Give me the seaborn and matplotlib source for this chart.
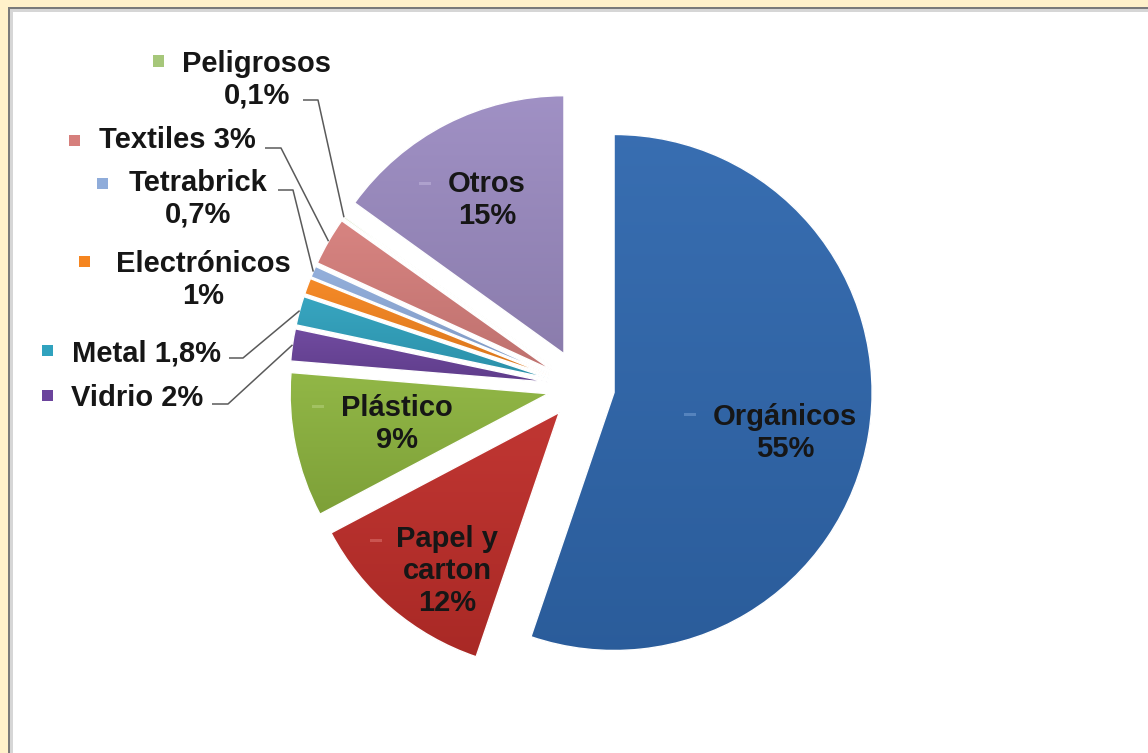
import numpy as np
import matplotlib
matplotlib.use('Agg')
import matplotlib.pyplot as plt
import seaborn as sns
from matplotlib.colors import to_rgb
from matplotlib.patches import Rectangle, Wedge

# ---------------- data ----------------
categories = ['Orgánicos', 'Papel y carton', 'Plástico', 'Vidrio', 'Metal',
              'Electrónicos', 'Tetrabrick', 'Textiles', 'Peligrosos', 'Otros']
values = [55, 12, 9, 2, 1.8, 1, 0.7, 3, 0.1, 15]
value_labels = ['55%', '12%', '9%', '2%', '1,8%', '1%', '0,7%', '3%', '0,1%', '15%']

# ---------------- style ----------------
sns.set_theme(style='white')
plt.rcParams['font.family'] = ['Liberation Sans', 'DejaVu Sans']

colors = ['#3068AE', '#BE2E2A', '#8DB43F', '#6B449C', '#30A2BE',
          '#F5851F', '#8FACDA', '#D67F7C', '#A6C77A', '#9C8CC2']
explode = [0.13, 0.13, 0.13, 0.13, 0.13, 0.13, 0.13, 0.13, 0.13, 0.145]

W, H = 1148, 753
CX, CY, R = 581, 387, 258   # pixel layout of pie


def px(x, y):
    return ((x - CX) / R, (CY - y) / R)


fig = plt.figure(figsize=(W / 100, H / 100), dpi=100)
fig.patch.set_facecolor('#FFF1CA')
# white panel with grey border
fig.add_artist(Rectangle((10 / W, 0), 1.0, (H - 9) / H, transform=fig.transFigure,
                         facecolor='white', edgecolor='none', zorder=0))
fig.add_artist(Rectangle((8 / W, 0), 2.2 / W, (H - 7) / H, transform=fig.transFigure,
                         facecolor='#7A7A7A', edgecolor='none', zorder=1))
fig.add_artist(Rectangle((8 / W, (H - 9.2) / H), 1.0, 2.2 / H, transform=fig.transFigure,
                         facecolor='#7A7A7A', edgecolor='none', zorder=1))
fig.add_artist(Rectangle((10.2 / W, 0), 3 / W, (H - 9.2) / H, transform=fig.transFigure,
                         facecolor='#D6D6D6', edgecolor='none', zorder=1))
fig.add_artist(Rectangle((10.2 / W, (H - 12.2) / H), 1.0, 3 / H, transform=fig.transFigure,
                         facecolor='#D6D6D6', edgecolor='none', zorder=1))

ax = fig.add_axes([0, 0, 1, 1])
ax.patch.set_alpha(0)

wedges, _ = ax.pie(values, explode=explode, startangle=90, counterclock=False,
                   colors=colors, radius=1, center=(0, 0),
                   wedgeprops=dict(edgecolor='none', linewidth=0))


def shade(c, f):
    c = np.array(to_rgb(c))
    if f >= 0:
        return c + (1 - c) * f
    return c * (1 + f)


# vertical gradient fill of every wedge
for w, c in zip(wedges, colors):
    bb = w.get_path().get_extents()
    top, bot = shade(c, 0.04), shade(c, -0.11)
    t = np.linspace(0, 1, 128)[:, None, None]
    img = top[None, None, :] * (1 - t) + bot[None, None, :] * t
    im = ax.imshow(img, extent=[bb.x0, bb.x1, bb.y0, bb.y1], origin='upper',
                   aspect='auto', interpolation='bicubic', zorder=w.get_zorder() + 0.1)
    im.set_clip_path(w)
    ax.add_patch(Wedge(w.center, w.r, w.theta1, w.theta2, fill=False,
                       edgecolor='white', linewidth=1.0, zorder=w.get_zorder() + 0.2))

TXT = '#161616'
FS = 21

# label layout: (line format, text center px, key type, key pos px, leader start px)
layout = {
    'Orgánicos':      ('{c}\n{v}', (785, 433), 'dash', (690, 415), None),
    'Papel y carton': ('Papel y\ncarton\n{v}', (447, 571), 'dash', (376, 540), None),
    'Plástico':       ('{c}\n{v}', (397, 424), 'dash', (318, 407), None),
    'Otros':          ('{c}\n{v}', (487, 200), 'dash', (425, 183), None),
    'Peligrosos':     ('{c}\n{v}', (257, 80), 'sq', (158, 61), [(303, 100), (318, 100)]),
    'Textiles':       ('{c} {v}', (177, 140), 'sq', (74, 140), [(265, 148), (281, 148)]),
    'Tetrabrick':     ('{c}\n{v}', (198, 199), 'sq', (102, 183), [(278, 190), (293, 190)]),
    'Electrónicos':   ('{c}\n{v}', (203, 280), 'sq', (85, 262), None),
    'Metal':          ('{c} {v}', (146, 354), 'sq', (47, 351), [(229, 358), (243, 358)]),
    'Vidrio':         ('{c} {v}', (137, 398), 'sq', (47, 396), [(212, 404), (228, 404)]),
}

for cat, val, w, c in zip(categories, value_labels, wedges, colors):
    fmt, pos, key, kpos, leader = layout[cat]
    x, y = px(*pos)
    ax.text(x, y, fmt.format(c=cat, v=val), ha='center', va='center',
            fontsize=FS, fontweight='bold', color=TXT, linespacing=1.18, zorder=10)
    kx, ky = px(*kpos)
    if key == 'sq':
        s = 11 / R
        ax.add_patch(Rectangle((kx - s / 2, ky - s / 2), s, s, facecolor=c,
                               edgecolor='none', zorder=10))
    else:
        ax.add_patch(Rectangle((kx - 6 / R, ky - 1.5 / R), 12 / R, 3 / R,
                               facecolor=shade(c, 0.18), edgecolor='none', zorder=10))
    if leader is not None:
        thm = np.deg2rad(0.5 * (w.theta1 + w.theta2))
        ex = w.center[0] + w.r * np.cos(thm)
        ey = w.center[1] + w.r * np.sin(thm)
        pts = [px(*p) for p in leader] + [(ex, ey)]
        ax.plot([p[0] for p in pts], [p[1] for p in pts], color='#5A5A5A',
                lw=1.1, zorder=9, solid_capstyle='butt')

ax.set_xlim(-CX / R, (W - CX) / R)
ax.set_ylim((CY - H) / R, CY / R)
ax.set_axis_off()

fig.savefig('out.png', dpi=100, facecolor=fig.get_facecolor())
